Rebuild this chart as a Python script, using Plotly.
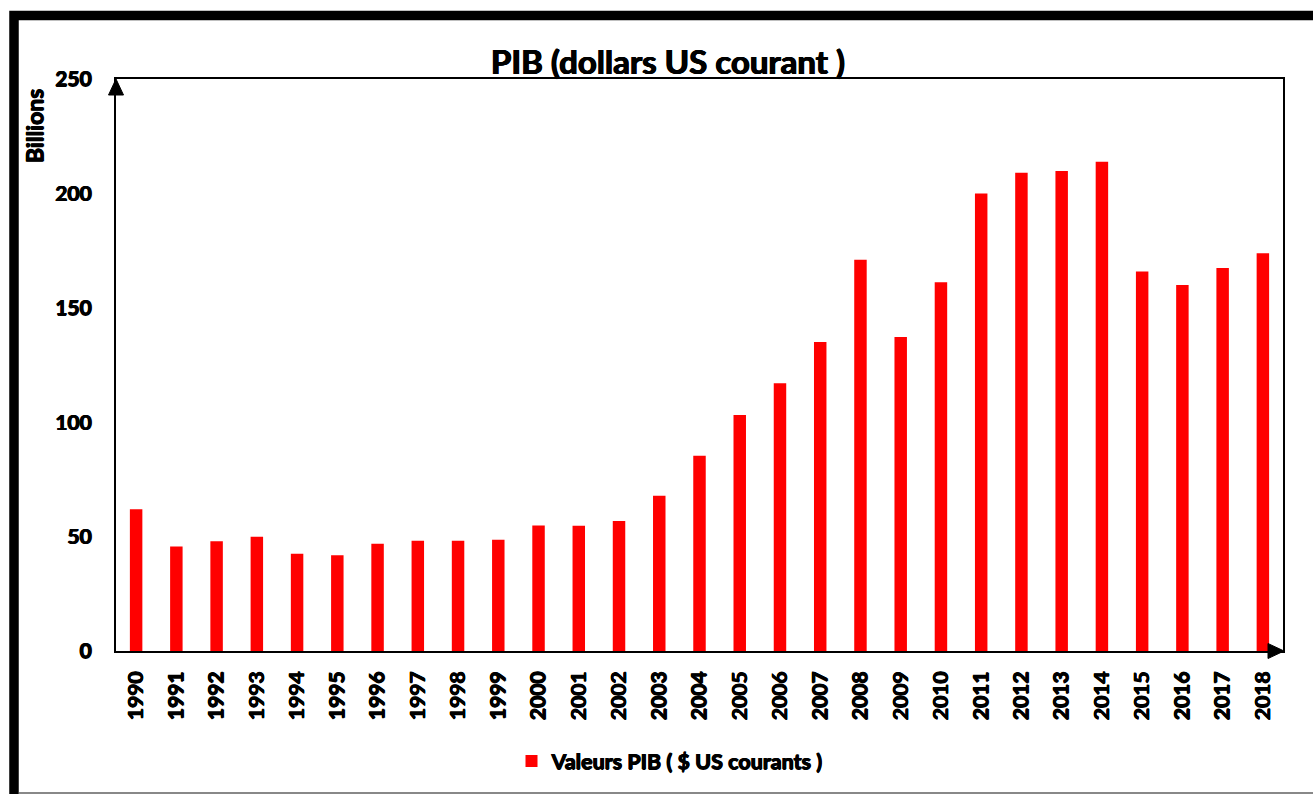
import plotly.graph_objects as go

years = [str(y) for y in range(1990, 2019)]
gdp_billions = [62.0, 45.7, 48.0, 49.9, 42.5, 41.8, 46.9, 48.2, 48.2, 48.6,
                54.8, 54.7, 56.8, 67.9, 85.3, 103.2, 117.0, 135.0, 171.0, 137.2,
                161.2, 200.0, 209.0, 209.8, 213.8, 165.9, 160.0, 167.4, 173.8]
y_ticks = [0, 50, 100, 150, 200, 250]

W, H = 1313, 794
L, R, T, B = 116, 1283, 79, 651

def xp(px):
    return (px - L) / (R - L)

def yp(py):
    return (B - py) / (B - T)

FONT = "Lato"
WEIGHT = "bold"
SHADOW = "0.6px 0 0 black, -0.6px 0 0 black, 0 0.5px 0 black"

def fnt(size):
    return dict(family=FONT, size=size, color="black", weight=WEIGHT, shadow=SHADOW)

fig = go.Figure()
fig.add_trace(go.Bar(
    x=years, y=gdp_billions,
    name="Valeurs PIB ( $ US courants )",
    marker=dict(color="#FF0000", line=dict(width=0)),
))

shapes = [
    dict(type="path", xref="paper", yref="paper",
         path=f"M {xp(14)},{yp(805)} L {xp(14)},{yp(15.5)} L {xp(1330)},{yp(15.5)}",
         line=dict(color="black", width=9.5)),
    dict(type="line", xref="paper", yref="paper",
         x0=xp(19), x1=xp(1320), y0=yp(793), y1=yp(793),
         line=dict(color="#888888", width=2)),
    dict(type="path", xref="paper", yref="paper",
         path=f"M {xp(116)},{yp(79)} L {xp(108.5)},{yp(95)} L {xp(123.5)},{yp(95)} Z",
         fillcolor="black", line=dict(color="black", width=1)),
    dict(type="path", xref="paper", yref="paper",
         path=f"M {xp(1284)},{yp(651)} L {xp(1268)},{yp(643.5)} L {xp(1268)},{yp(658.5)} Z",
         fillcolor="black", line=dict(color="black", width=1)),
]

fig.update_layout(
    width=W, height=H,
    margin=dict(l=L, r=W - R, t=T, b=H - B, pad=0),
    paper_bgcolor="white", plot_bgcolor="white",
    font=dict(family=FONT, color="black", weight=WEIGHT),
    title=dict(text="PIB (dollars US courant )", x=668 / W, xanchor="center",
               xref="container", y=1 - 62 / H, yanchor="middle", yref="container",
               font=fnt(33)),
    bargap=0.69,
    showlegend=True,
    legend=dict(orientation="h", x=xp(670), xanchor="center", y=yp(761), yanchor="middle",
                font=fnt(21.5), itemwidth=30, bgcolor="rgba(0,0,0,0)"),
    shapes=shapes,
    annotations=[dict(text="Billions", xref="paper", yref="paper", x=xp(34), y=yp(126),
                      textangle=-90, showarrow=False, xanchor="center", yanchor="middle",
                      font=fnt(23))],
)

fig.update_xaxes(
    type="category", range=[-0.5, len(years) - 0.5],
    showline=True, linecolor="black", linewidth=2, mirror=True,
    showgrid=False, zeroline=False, ticks="", tickangle=-90,
    tickfont=fnt(21), ticklabelstandoff=10,
)
fig.update_yaxes(
    range=[0, 250], tickvals=y_ticks, ticktext=[str(v) for v in y_ticks],
    showline=True, linecolor="black", linewidth=2, mirror=True,
    showgrid=False, zeroline=False, ticks="",
    tickfont=fnt(21), ticklabelstandoff=18,
)

fig.write_html("out.html", config=dict(displayModeBar=False),
               post_script="document.body.style.margin='0';document.body.style.overflow='hidden';")
